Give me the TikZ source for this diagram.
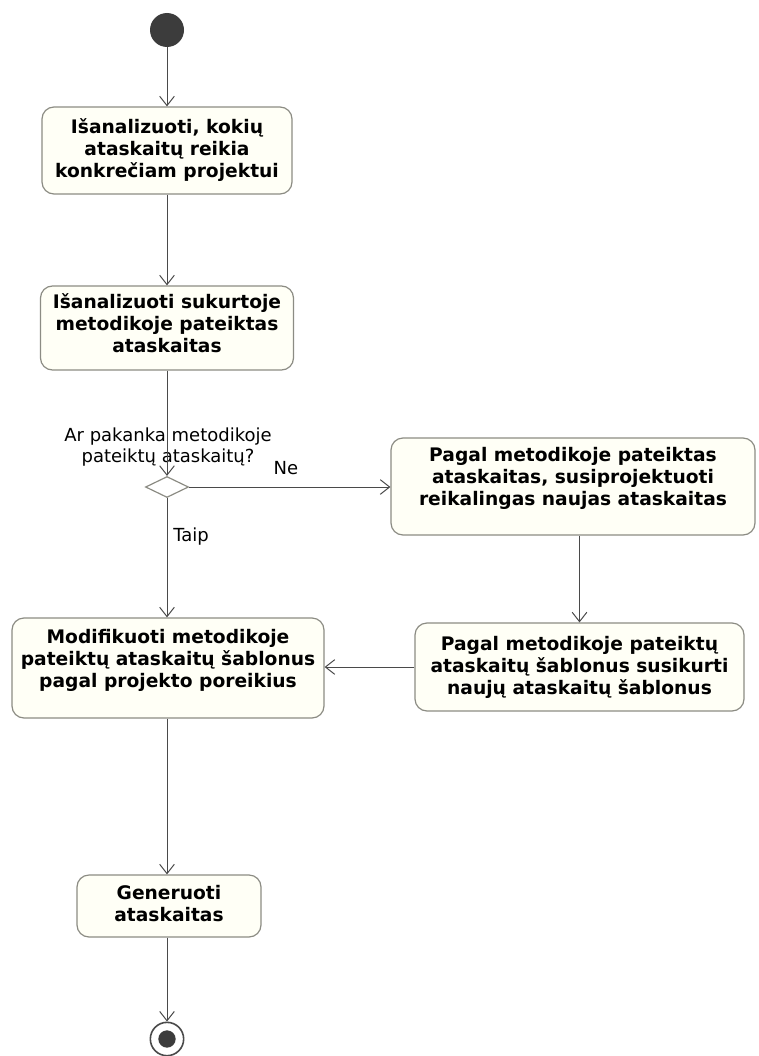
\documentclass[tikz,border=0pt]{standalone}
\usepackage{fontspec}
\setmainfont{DejaVu Sans}
\usetikzlibrary{arrows.meta,shapes.geometric}
\definecolor{linegray}{HTML}{4A4A4A}
\definecolor{boxline}{HTML}{8C8C84}
\definecolor{boxfill}{HTML}{FFFFF6}
\definecolor{dotfill}{HTML}{3C3C3C}

\begin{document}
\begin{tikzpicture}[x=0.75pt,y=-0.75pt,
  action/.style={draw=boxline, line width=0.9pt, fill=boxfill, rounded corners=9pt, inner sep=0pt},
  atext/.style={align=center, inner sep=0pt, font=\bfseries\fontsize{14}{16.5}\selectfont},
  plain/.style={align=center, inner sep=0pt, font=\fontsize{13.5}{15.75}\selectfont},
  flow/.style={draw=linegray, line width=0.75pt, -{Straight Barb[length=7pt,width=11pt,line width=0.75pt]}},
  choice/.style={shape=diamond, draw=boxline, fill=white, line width=0.9pt, inner sep=0pt, minimum width=32.25pt, minimum height=15.75pt}]

\useasboundingbox[fill=white] (0,0) rectangle (759,1056);

% start and end points
\node[circle, fill=dotfill, minimum size=25.5pt, inner sep=0pt] (start) at (167,30) {};
\node[circle, draw=linegray, line width=1.2pt, fill=white, minimum size=25pt, inner sep=0pt] (end) at (167,1039) {};
\node[circle, fill=dotfill, minimum size=13pt, inner sep=0pt] (enddot) at (167,1039) {};

% actions
\node[action, minimum width=187.5pt, minimum height=65.25pt] (b1) at (167,150.5) {};
\node[atext] (t1) at (b1.center) {Išanalizuoti, kokių\\ataskaitų reikia\\konkrečiam projektui};

\node[action, minimum width=189.75pt, minimum height=63pt] (b2) at (167,328) {};
\node[atext] (t2) at ([yshift=3.75pt]b2.center) {Išanalizuoti sukurtoje\\metodikoje pateiktas\\ataskaitas};

\node[choice] (d) at (167,487) {};
\node[plain] (q) at (168,447.5) {Ar pakanka metodikoje\\pateiktų ataskaitų?};

\node[action, minimum width=273pt, minimum height=72.75pt] (b3) at (573,486.5) {};
\node[atext] (t3) at ([yshift=6pt]b3.center) {Pagal metodikoje pateiktas\\ataskaitas, susiprojektuoti\\reikalingas naujas ataskaitas};

\node[action, minimum width=246.75pt, minimum height=66pt] (b4) at (579.5,667) {};
\node[atext] (t4) at ([yshift=-0.5pt]b4.center) {Pagal metodikoje pateiktų\\ataskaitų šablonus susikurti\\naujų ataskaitų šablonus};

\node[action, minimum width=234pt, minimum height=75pt] (b5) at (168,668) {};
\node[atext] (t5) at ([yshift=6pt]b5.center) {Modifikuoti metodikoje\\pateiktų ataskaitų šablonus\\pagal projekto poreikius};

\node[action, minimum width=138pt, minimum height=46.5pt] (b6) at (169,906) {};
\node[atext] (t6) at ([yshift=2pt]b6.center) {Generuoti\\ataskaitas};

% guard labels
\node[plain] (ne) at (286,468) {Ne};
\node[plain] (taip) at (191,537) {Taip};

% flows
\draw[flow] (start) -- (start |- b1.north);
\draw[flow] (b1.south -| start) -- (b2.north -| start);
\draw[flow] (b2.south -| start) -- (d.north);
\draw[flow] (d.east) -- (d.east -| b3.west);
\draw[flow] (d.south) -- (b5.north -| d);
\draw[flow] (b3.south -| b4.north) -- (b4.north);
\draw[flow] (b4.west) -- (b4.west -| b5.east);
\draw[flow] (b5.south -| start) -- (b6.north -| start);
\draw[flow] (b6.south -| start) -- (end.north);
\end{tikzpicture}
\end{document}
